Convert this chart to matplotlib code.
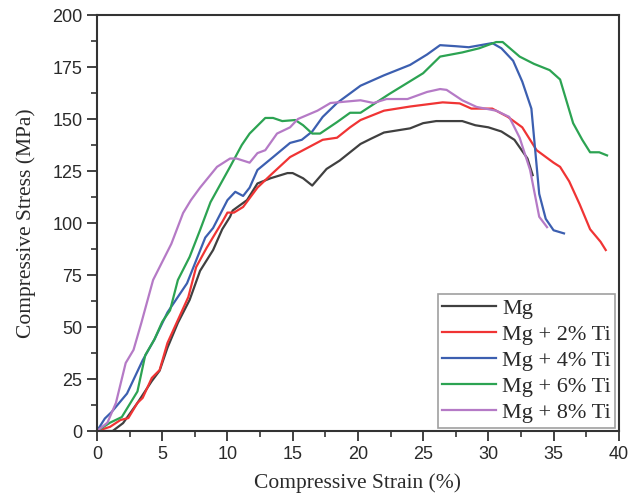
import matplotlib
matplotlib.use("Agg")
import matplotlib.pyplot as plt
from matplotlib.ticker import MultipleLocator

# ── Data ───────────────────────────────────────────────────────────────────────

mg_x = [0, 1.2, 2.0, 3.1, 4.2, 4.8, 5.4, 6.2, 7.1, 7.9, 8.9, 9.6, 10.2, 10.4, 11.5,
        12.3, 13.3, 14.6, 15.0, 15.8, 16.5, 17.6, 18.6, 20.2, 21.0, 22.0, 23.0,
        24.0, 25.0, 26.0, 27.0, 28.0, 29.0, 30.0, 31.0, 32.0, 33.0, 33.4]
mg_y = [0, 0, 3.8, 13.5, 24, 29, 40, 52, 63, 77, 87, 97, 103, 106, 111,
        119, 121.5, 124, 124, 121.5, 118, 126, 130, 138, 140.5, 143.5, 144.5,
        145.5, 148, 149, 149, 149, 147, 146, 144, 140, 131, 123]

ti2_x = [0, 1.0, 1.8, 2.4, 3.1, 3.5, 4.2, 4.8, 5.4, 7.0, 7.6, 8.4, 9.6, 10.0, 10.5,
         11.2, 12.3, 13.3, 14.8, 16.1, 17.3, 18.4, 19.4, 20.2, 22.0, 24.0, 26.5,
         27.8, 28.7, 30.3, 31.5, 32.6, 33.7, 35.0, 35.5, 36.2, 37.0, 37.8, 38.6, 39.0]
ti2_y = [0, 2, 5.3, 6.2, 13.5, 15.9, 25.5, 29.3, 42.3, 64.4, 78.8, 88, 100.5, 105, 105,
         107.7, 117, 123, 131.7, 136, 140, 141, 146, 149.5, 154, 156, 158,
         157.5, 155, 155, 151, 146, 135, 129, 127, 120, 109, 97, 91, 87]

ti4_x = [0, 0.6, 1.1, 2.3, 3.5, 4.4, 5.4, 6.9, 8.3, 8.9, 10.0, 10.6, 11.2, 11.7,
         12.3, 13.5, 14.8, 15.7, 16.5, 17.3, 18.4, 20.2, 22.0, 24.0, 25.3, 26.3,
         27.5, 28.5, 30.3, 31.0, 31.9, 32.6, 33.3, 33.9, 34.4, 35.0, 35.8]
ti4_y = [0, 6, 9, 18, 34, 44, 57, 71, 93, 97.6, 111, 115, 113, 117,
         125.5, 131.7, 138.5, 140, 144, 151, 157.7, 166, 171, 176, 181, 185.5,
         185, 184.5, 186.5, 184, 178, 168, 155, 114, 102, 96.5, 95]

ti6_x = [0, 1.0, 1.9, 3.1, 3.7, 4.4, 5.0, 5.6, 6.2, 7.1, 7.9, 8.7, 10.2, 11.1,
         11.7, 12.9, 13.5, 14.2, 15.2, 15.8, 16.5, 17.1, 18.4, 19.4, 20.2, 22.4,
         25.0, 26.3, 28.0, 29.3, 30.6, 31.1, 32.4, 33.5, 34.7, 35.5, 36.5, 37.2,
         37.8, 38.5, 39.1]
ti6_y = [0, 4, 6.7, 19, 36.5, 44, 52.5, 58, 72.6, 83.7, 96.6, 110, 127, 137.5,
         143, 150.5, 150.5, 149, 149.5, 147, 143, 143, 148.5, 153, 153, 162,
         172, 180, 182, 184, 187, 187, 180, 176.5, 173.5, 169, 148, 140,
         134, 134, 132.5]

ti8_x = [0, 0.8, 1.45, 2.2, 2.8, 3.4, 4.3, 5.7, 6.6, 7.2, 7.9, 9.2, 10.2, 10.7,
         11.7, 12.3, 12.9, 13.8, 14.8, 15.4, 16.9, 17.9, 20.2, 21.2, 22.2, 23.8,
         25.3, 26.3, 26.8, 28.0, 29.1, 30.6, 31.6, 32.4, 33.2, 33.9, 34.5]
ti8_y = [0, 4, 13.5, 32.7, 39, 52, 72.6, 90, 104.8, 111, 117, 127, 131, 131,
         129, 133.6, 135, 143, 146, 150, 154, 157.7, 159, 157.7, 159.6, 159.6,
         163, 164.4, 164, 159, 155.8, 154, 151, 141, 125.5, 103, 98]

series = [
    ("Mg",          mg_x,  mg_y,  "#404040"),
    ("Mg + 2% Ti",  ti2_x, ti2_y, "#f03434"),
    ("Mg + 4% Ti",  ti4_x, ti4_y, "#3c5fb0"),
    ("Mg + 6% Ti",  ti6_x, ti6_y, "#2ca352"),
    ("Mg + 8% Ti",  ti8_x, ti8_y, "#b57ac6"),
]

TEXT  = "#2a2a2a"
SERIF = ["Liberation Serif", "DejaVu Serif"]

# ── Plot ───────────────────────────────────────────────────────────────────────

# tick labels are sans (Arial-like), titles and legend are Times-like
plt.rcParams["font.family"] = ["Liberation Sans", "DejaVu Sans"]

fig = plt.figure(figsize=(6.34, 5.0), dpi=100)
ax = fig.add_axes([0.153, 0.138, 0.823, 0.832])

for label, xs, ys, color in series:
    ax.plot(xs, ys, color=color, linewidth=1.6, label=label)

ax.set_xlim(0, 40)
ax.set_ylim(0, 200)
ax.xaxis.set_major_locator(MultipleLocator(5))
ax.xaxis.set_minor_locator(MultipleLocator(2.5))
ax.yaxis.set_major_locator(MultipleLocator(25))
ax.yaxis.set_minor_locator(MultipleLocator(12.5))
ax.tick_params(which="major", direction="out", length=7, width=1.3,
               labelsize=13, colors="#333333", labelcolor=TEXT)
ax.tick_params(which="minor", direction="out", length=4, width=1.2,
               colors="#333333")

for spine in ax.spines.values():
    spine.set_color("#333333")
    spine.set_linewidth(1.5)

ax.set_xlabel("Compressive Strain (%)", fontsize=15.5, labelpad=8,
              color=TEXT, family=SERIF)
ax.set_ylabel("Compressive Stress (MPa)", fontsize=15.5, labelpad=12,
              color=TEXT, family=SERIF)

leg = ax.legend(loc="lower right", prop={"size": 16, "family": SERIF},
                frameon=True, fancybox=False,
                handlelength=2.4, handletextpad=0.3, borderpad=0.2,
                labelspacing=0.25, borderaxespad=0.15)
leg.get_frame().set_edgecolor("#888888")
leg.get_frame().set_linewidth(1.2)
for t in leg.get_texts():
    t.set_color(TEXT)

fig.savefig("out.png", dpi=100)
